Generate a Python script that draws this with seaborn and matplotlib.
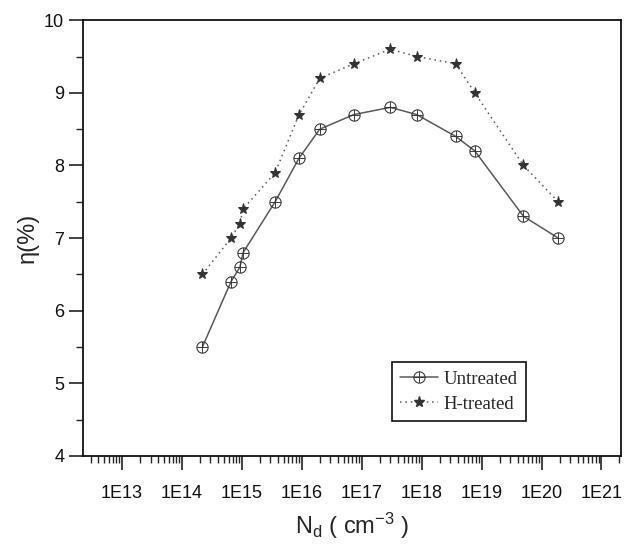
import numpy as np
import pandas as pd
import matplotlib
matplotlib.use("Agg")
import matplotlib.pyplot as plt
import matplotlib.ticker as mticker
from matplotlib.lines import Line2D
import seaborn as sns

# --- data ---
nd = [2.2e14, 6.6e14, 9.3e14, 1.05e15, 3.6e15, 9.0e15, 2.0e16, 7.4e16,
      3.0e17, 8.3e17, 3.7e18, 7.7e18, 5.0e19, 1.9e20]
eta_untreated = [5.5, 6.4, 6.6, 6.8, 7.5, 8.1, 8.5, 8.7, 8.8, 8.7, 8.4, 8.2, 7.3, 7.0]
eta_htreated = [6.5, 7.0, 7.2, 7.4, 7.9, 8.7, 9.2, 9.4, 9.6, 9.5, 9.4, 9.0, 8.0, 7.5]
xtick_exps = list(range(13, 22))

sns.set_style("ticks")
plt.rcParams["font.family"] = ["Liberation Sans", "DejaVu Sans"]
plt.rcParams["mathtext.fontset"] = "custom"
plt.rcParams["mathtext.rm"] = "Liberation Sans"
plt.rcParams["mathtext.it"] = "Liberation Sans"

df_u = pd.DataFrame({"nd": nd, "eta": eta_untreated})
df_h = pd.DataFrame({"nd": nd, "eta": eta_htreated})

fig = plt.figure(figsize=(6.31, 5.46), dpi=100)
ax = fig.add_axes([0.1315, 0.165, 0.853, 0.798])

line_col = "#5a5a5a"
mark_col = "#333333"
u_style = dict(color=line_col, lw=1.1, marker=r"$\oplus$", markersize=8.5,
               markeredgewidth=0.3, markerfacecolor=mark_col, markeredgecolor=mark_col)
h_style = dict(color=line_col, lw=1.1, linestyle=(0, (1, 2.5)), marker="*",
               markersize=8, markerfacecolor=mark_col, markeredgecolor=mark_col)

sns.lineplot(data=df_u, x="nd", y="eta", ax=ax, **u_style)
sns.lineplot(data=df_h, x="nd", y="eta", ax=ax, **h_style)

ax.set_xscale("log")
ax.set_xlim(10 ** 12.35, 10 ** 21.33)
ax.set_ylim(4, 10)

ax.xaxis.set_major_locator(mticker.FixedLocator([10.0 ** e for e in xtick_exps]))
ax.xaxis.set_major_formatter(mticker.FixedFormatter([f"1E{e}" for e in xtick_exps]))
ax.xaxis.set_minor_locator(mticker.LogLocator(base=10, subs=np.arange(2, 10), numticks=30))
ax.xaxis.set_minor_formatter(mticker.NullFormatter())
ax.yaxis.set_major_locator(mticker.MultipleLocator(1))
ax.yaxis.set_minor_locator(mticker.MultipleLocator(0.5))

ax.tick_params(which="major", direction="out", length=10, width=1.1,
               labelsize=13, colors="#111111", top=False, right=False)
ax.tick_params(which="minor", direction="out", length=5, width=1.0,
               top=False, right=False)
ax.tick_params(axis="x", which="major", pad=11)

for side in ["top", "right", "bottom", "left"]:
    ax.spines[side].set_visible(True)
    ax.spines[side].set_linewidth(1.3)
    ax.spines[side].set_color("#111111")

ax.set_xlabel(r"N$_{\mathrm{d}}$ ( cm$^{-3}$ )", fontsize=17, labelpad=6)
ax.set_ylabel("η(%)", fontsize=17, labelpad=4)

handles = [Line2D([], [], **u_style), Line2D([], [], **h_style)]
leg = ax.legend(handles, ["Untreated", "H-treated"], loc="lower left",
                bbox_to_anchor=(0.574, 0.08), borderaxespad=0, fancybox=False,
                frameon=True, edgecolor="#111111", framealpha=1,
                prop={"family": "Liberation Serif", "size": 13.5},
                handlelength=2.0, handletextpad=0.3, labelspacing=0.4,
                borderpad=0.45)
leg.get_frame().set_linewidth(1.2)

fig.savefig("out.png", dpi=100)
